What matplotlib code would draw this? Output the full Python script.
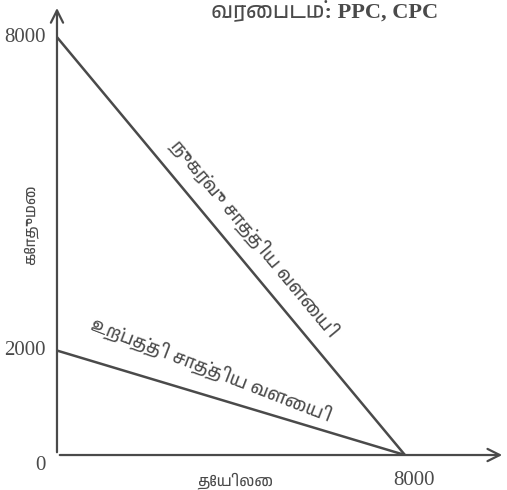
import matplotlib
matplotlib.use("Agg")
import matplotlib.pyplot as plt
from matplotlib import font_manager

# values
wheat_max = [8000, 2000]          # y-intercepts: consumption, production
tea_max = [8000, 8000]            # x-intercepts
curve_names = ["நுகர்வு சாத்திய வளையி", "உற்பத்தி சாத்திய வளையி"]
y_ticks = [8000, 2000]
x_ticks = [8000]
x_label = "தேயிலை"
y_label = "கோதுமை"
title = "வரைபடம்: PPC, CPC"

# pick a font that has Tamil glyphs if one is around
tamil = [f.name for f in font_manager.fontManager.ttflist if "tamil" in f.name.lower()]
tam_family = [tamil[0], "DejaVu Sans"] if tamil else ["Noto Sans", "DejaVu Sans"]
serif = "Liberation Serif"

ink = "#4a4a4a"

fig = plt.figure(figsize=(5.07, 4.90), dpi=100)
ax = fig.add_axes([0.1124, 0.0714, 0.8836, 0.918])
ax.set_xlim(0, 10300)
ax.set_ylim(0, 8612)
ax.axis("off")

# axes with arrow heads
ax.annotate("", xy=(10300, 0), xytext=(0, 0),
            arrowprops=dict(arrowstyle="->", color=ink, lw=1.6, mutation_scale=22))
ax.annotate("", xy=(0, 8612), xytext=(0, 0),
            arrowprops=dict(arrowstyle="->", color=ink, lw=1.6, mutation_scale=22))

for ym, xm in zip(wheat_max, tea_max):
    ax.plot([0, xm], [ym, 0], color=ink, lw=1.8, solid_capstyle="butt")

for t in y_ticks:
    ax.text(-250, t, str(t), ha="right", va="center", fontsize=15,
            family=serif, color=ink)
for t in x_ticks:
    ax.text(t + 200, -300, str(t), ha="center", va="top", fontsize=15,
            family=serif, color=ink)
ax.text(-250, -200, "0", ha="right", va="center", fontsize=15, family=serif, color=ink)

ax.text(4100, -330, x_label, ha="center", va="top", fontsize=11,
        family=tam_family, color=ink)
ax.text(-600, 4400, y_label, ha="center", va="center", rotation=90,
        fontsize=11, family=tam_family, color=ink)

# labels along the two lines
ax.text(4550, 4150, curve_names[0], rotation=-50.2, rotation_mode="anchor",
        ha="center", va="center", fontsize=13, family=tam_family, color=ink)
ax.text(3550, 1620, curve_names[1], rotation=-21.2, rotation_mode="anchor",
        ha="center", va="center", fontsize=13, family=tam_family, color=ink)

fig.text(0.64, 0.998, title, ha="center", va="top", fontsize=16,
         family=[serif] + tam_family, color=ink, weight="bold")

fig.savefig("out.png", dpi=100, facecolor="white")
